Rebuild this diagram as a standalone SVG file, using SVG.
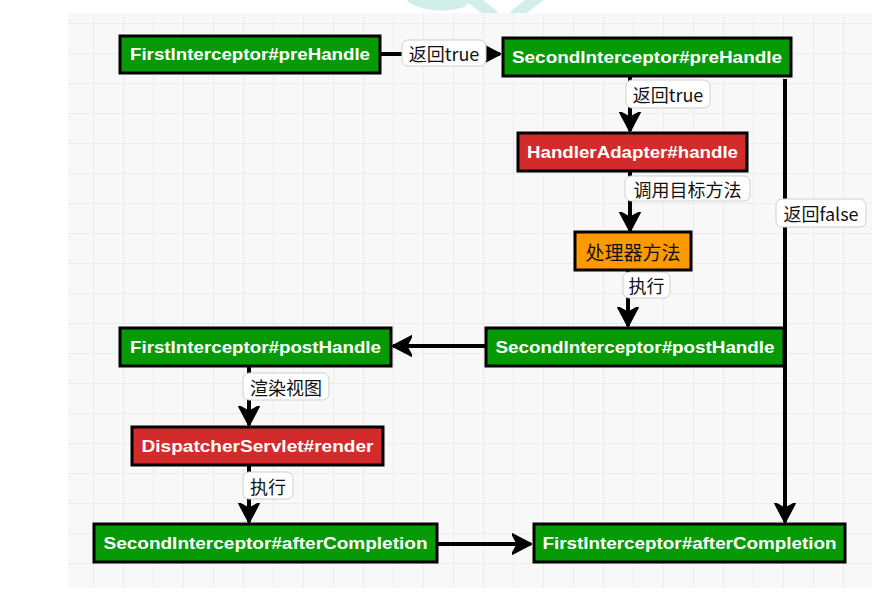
<svg xmlns="http://www.w3.org/2000/svg" width="891" height="599" viewBox="0 0 891 599">
<defs>
<pattern id="grid" x="93" y="23" width="30" height="30" patternUnits="userSpaceOnUse">
<path d="M0,0 H30 M0,0 V30" fill="none" stroke="#e9e9e9" stroke-width="1.5"/>
</pattern>
<marker id="arr" markerUnits="userSpaceOnUse" markerWidth="22" markerHeight="22" refX="17" refY="10" orient="auto" viewBox="0 0 20 20">
<path d="M0,1 L17,10 L0,19 L5,10 Z" fill="#000" stroke="#000" stroke-width="2" stroke-linejoin="round"/>
</marker>
<style>
.node rect{stroke:#000;stroke-width:3}
.g{fill:#079a07}
.r{fill:#d32b2b}
.o{fill:#ff9900}
.nt{font-family:"Liberation Sans","Noto Sans CJK SC",sans-serif;font-size:16px;font-weight:bold;fill:#fff;text-anchor:middle;dominant-baseline:central}
.ct{font-family:"Noto Sans CJK SC","Liberation Sans",sans-serif;font-size:19px;fill:#111;text-anchor:middle;dominant-baseline:central}
.edge{fill:none;stroke:#000;stroke-width:4}
.lb rect{fill:#fff;stroke:#cfcfcf;stroke-width:1}
.lt{font-family:"Noto Sans CJK SC","Liberation Sans",sans-serif;font-size:18px;fill:#111;text-anchor:middle;dominant-baseline:central}
</style>
</defs>
<rect width="891" height="599" fill="#fff"/>
<g id="watermark" fill="none" stroke="#d2eee8" stroke-width="11" stroke-linecap="round">
<path d="M412,-2 Q435,10 462,2"/>
<path d="M468,-4 L492,14"/>
<path d="M540,-4 L516,14"/>
</g>
<rect x="68" y="13" width="804" height="575" fill="#f8f8f8"/>
<rect x="68" y="13" width="804" height="575" fill="url(#grid)"/>

<g id="connectors">
<path class="edge" d="M380,54 H500" marker-end="url(#arr)"/>
<path class="edge" d="M630,77 V131" marker-end="url(#arr)"/>
<path class="edge" d="M630,172 V231" marker-end="url(#arr)"/>
<path class="edge" d="M628,271 V326" marker-end="url(#arr)"/>
<path class="edge" d="M485,346 H393" marker-end="url(#arr)"/>
<path class="edge" d="M785,79 V522" marker-end="url(#arr)"/>
<path class="edge" d="M249,367 V425" marker-end="url(#arr)"/>
<path class="edge" d="M249,466 V522" marker-end="url(#arr)"/>
<path class="edge" d="M438,544 H531" marker-end="url(#arr)"/>
<g class="lb"><rect x="402" y="40" width="84" height="26" rx="6"/><text class="lt" x="444" y="53">返回true</text></g>
<g class="lb"><rect x="626" y="80" width="84" height="28" rx="6"/><text class="lt" x="668" y="94">返回true</text></g>
<g class="lb"><rect x="625" y="176" width="125" height="25" rx="6"/><text class="lt" x="687.5" y="188.5">调用目标方法</text></g>
<g class="lb"><rect x="623" y="272" width="47" height="26" rx="6"/><text class="lt" x="646.5" y="285">执行</text></g>
<g class="lb"><rect x="776" y="199" width="90" height="28" rx="6"/><text class="lt" x="821" y="213">返回false</text></g>
<g class="lb"><rect x="243" y="373" width="86" height="27" rx="6"/><text class="lt" x="286" y="386.5">渲染视图</text></g>
<g class="lb"><rect x="243" y="472" width="50" height="27" rx="6"/><text class="lt" x="268" y="485.5">执行</text></g>
</g>

<g id="n1" class="node"><rect class="g" x="120" y="36" width="260" height="37"/><text class="nt" x="250" y="54.5" textLength="240" lengthAdjust="spacingAndGlyphs">FirstInterceptor#preHandle</text></g>
<g id="n2" class="node"><rect class="g" x="503" y="38" width="288" height="38"/><text class="nt" x="647" y="57" textLength="270" lengthAdjust="spacingAndGlyphs">SecondInterceptor#preHandle</text></g>
<g id="n3" class="node"><rect class="r" x="518" y="133" width="229" height="38"/><text class="nt" x="632.5" y="152" textLength="211" lengthAdjust="spacingAndGlyphs">HandlerAdapter#handle</text></g>
<g id="n4" class="node"><rect class="o" x="575" y="232" width="116" height="38"/><text class="ct" x="633" y="251">处理器方法</text></g>
<g id="n5" class="node"><rect class="g" x="486" y="328" width="298" height="38"/><text class="nt" x="635" y="347" textLength="279" lengthAdjust="spacingAndGlyphs">SecondInterceptor#postHandle</text></g>
<g id="n6" class="node"><rect class="g" x="120" y="328" width="271" height="38"/><text class="nt" x="255.5" y="347" textLength="251" lengthAdjust="spacingAndGlyphs">FirstInterceptor#postHandle</text></g>
<g id="n7" class="node"><rect class="r" x="132" y="427" width="251" height="38"/><text class="nt" x="257.5" y="446" textLength="232" lengthAdjust="spacingAndGlyphs">DispatcherServlet#render</text></g>
<g id="n8" class="node"><rect class="g" x="94" y="524" width="343" height="38"/><text class="nt" x="265.5" y="543" textLength="324" lengthAdjust="spacingAndGlyphs">SecondInterceptor#afterCompletion</text></g>
<g id="n9" class="node"><rect class="g" x="534" y="524" width="311" height="38"/><text class="nt" x="689.5" y="543" textLength="294" lengthAdjust="spacingAndGlyphs">FirstInterceptor#afterCompletion</text></g>
</svg>
